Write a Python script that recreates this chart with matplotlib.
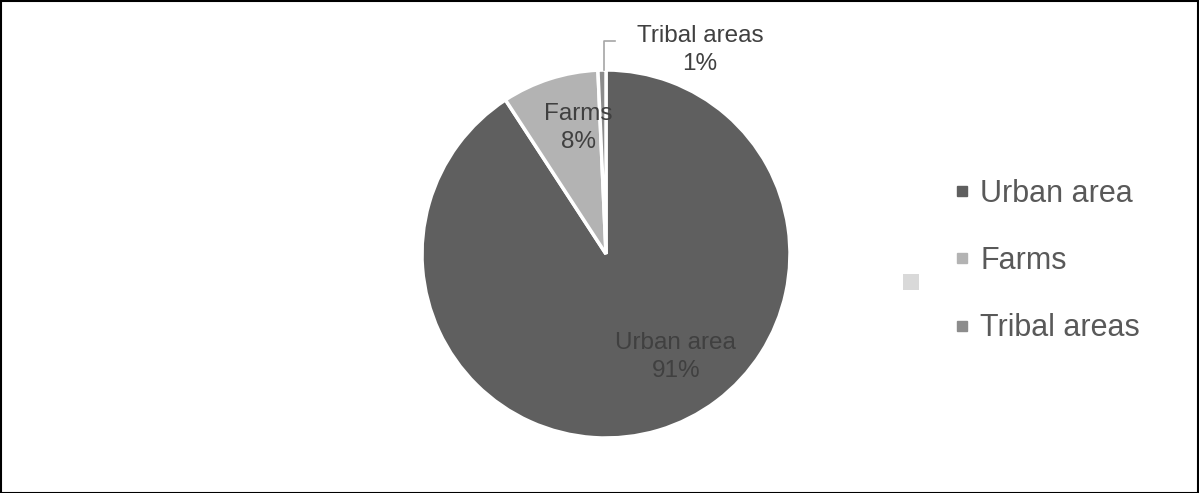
import numpy as np
import matplotlib.pyplot as plt
from matplotlib.lines import Line2D
from matplotlib.patches import Rectangle

plt.rcParams['font.family'] = ['Liberation Sans', 'DejaVu Sans']

categories = ['Urban area', 'Farms', 'Tribal areas']
shares = [90.8, 8.5, 0.7]
pct_labels = ['91%', '8%', '1%']
colors = ['#5f5f5f', '#b3b3b3', '#8c8c8c']

W, H = 1199, 493
fig = plt.figure(figsize=(W / 100, H / 100), dpi=100)

# pie axes: square box around the pie (pixels)
cx, cy, r = 606, 254, 184
ax = fig.add_axes([(cx - r) / W, (H - cy - r) / H, 2 * r / W, 2 * r / H])
wedges, _ = ax.pie(shares, colors=colors, startangle=90, counterclock=False,
                   wedgeprops=dict(edgecolor='white', linewidth=2.5))
ax.set_xlim(-1, 1)
ax.set_ylim(-1, 1)
ax.set_aspect('equal')
ax.axis('off')

lab_color = '#404040'
kw = dict(ha='center', va='center', fontsize=17.5, color=lab_color, linespacing=1.35)
ax.text(0.38, -0.56, categories[0] + '\n' + pct_labels[0], **kw)
ax.text(-0.15, 0.685, categories[1] + '\n' + pct_labels[1], **kw)
ax.text(0.51, 1.11, categories[2] + '\n' + pct_labels[2], clip_on=False, **kw)
# leader line for the small slice
ax.plot([0.05, -0.01, -0.01], [1.16, 1.16, 1.0], color='#a6a6a6', lw=1.2,
        clip_on=False)

handles = [Line2D([], [], marker='s', linestyle='none', markersize=6.5,
                  color=c) for c in colors]
fig.legend(handles, categories, loc='center left',
           bbox_to_anchor=(956 / W, 1 - 261 / H), borderaxespad=0, borderpad=0,
           frameon=False, fontsize=22, handlelength=0.4,
           handletextpad=0.4, labelspacing=1.22, labelcolor='#595959')

# stray light-gray legend square
fig.patches.append(Rectangle((903 / W, 1 - 290 / H), 16 / W, 16 / H,
                             transform=fig.transFigure, facecolor='#d9d9d9',
                             edgecolor='none'))

# outer frame
fig.patches.append(Rectangle((0.5 / W, 0.5 / H), 1 - 1.5 / W, 1 - 1.5 / H,
                             transform=fig.transFigure, fill=False,
                             edgecolor='black', linewidth=1.5))

fig.savefig('out.png', dpi=100)
